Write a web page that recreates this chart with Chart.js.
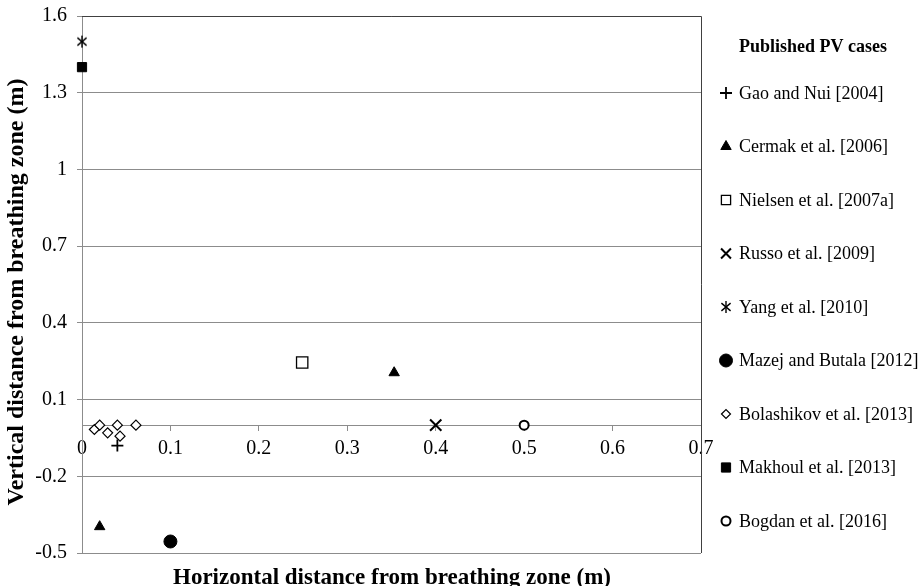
<!DOCTYPE html>
<html>
<head>
<meta charset="utf-8">
<script src="https://cdn.jsdelivr.net/npm/chart.js@4.4.1/dist/chart.umd.min.js"></script>
<style>
  html, body { margin: 0; padding: 0; background: #fff; }
</style>
</head>
<body>
<canvas id="chart" width="922" height="586"></canvas>
<script>
// Axis ticks
const xTicks = [0, 0.1, 0.2, 0.3, 0.4, 0.5, 0.6, 0.7]
const yTicks = [-0.5, -0.2, 0.1, 0.4, 0.7, 1, 1.3, 1.6]

// Published PV cases (horizontal, vertical distance in m)
const gaoNui = [{ x: 0.04, y: -0.08 }]
const cermak = [{ x: 0.353, y: 0.205 }, { x: 0.02, y: -0.397 }]
const nielsen = [{ x: 0.249, y: 0.245 }]
const russo = [{ x: 0.4, y: 0 }]
const yang = [{ x: 0, y: 1.5 }]
const mazej = [{ x: 0.1, y: -0.455 }]
const bolashikov = [
  { x: 0.014, y: -0.017 },
  { x: 0.02, y: 0 },
  { x: 0.029, y: -0.03 },
  { x: 0.04, y: 0 },
  { x: 0.043, y: -0.043 },
  { x: 0.061, y: 0 },
]
const makhoul = [{ x: 0, y: 1.4 }]
const bogdan = [{ x: 0.5, y: 0 }]

const FONT = "'Liberation Serif', 'Times New Roman', serif"
const GRID = "#8c8c8c"

// six-armed asterisk marker (Yang et al.)
function makeAsterisk(size) {
  const c = document.createElement("canvas")
  c.width = size
  c.height = size
  const g = c.getContext("2d")
  const r = size / 2 - 1
  g.strokeStyle = "#000"
  g.lineWidth = 1.4
  g.translate(size / 2, size / 2)
  ;[90, 40, -40].forEach((deg) => {
    const a = (deg * Math.PI) / 180
    g.beginPath()
    g.moveTo(-Math.cos(a) * r, -Math.sin(a) * r)
    g.lineTo(Math.cos(a) * r, Math.sin(a) * r)
    g.stroke()
  })
  return c
}
const asterisk = makeAsterisk(14)

function series(label, data, style) {
  return Object.assign(
    {
      label: label,
      data: data,
      showLine: false,
      clip: false,
      borderColor: "#000",
      backgroundColor: "#000",
    },
    style,
  )
}

const datasets = [
  series("Gao and Nui [2004]", gaoNui, { pointStyle: "cross", pointRadius: 6, pointBorderWidth: 1.8 }),
  series("Cermak et al. [2006]", cermak, { pointStyle: "triangle", pointRadius: 6, pointBorderWidth: 1 }),
  series("Nielsen et al. [2007a]", nielsen, { pointStyle: "rect", pointRadius: 8, pointBorderWidth: 1.3, backgroundColor: "#fff" }),
  series("Russo et al. [2009]", russo, { pointStyle: "crossRot", pointRadius: 8, pointBorderWidth: 2 }),
  series("Yang et al. [2010]", yang, { pointStyle: asterisk, pointRadius: 7 }),
  series("Mazej and Butala [2012]", mazej, { pointStyle: "circle", pointRadius: 6.5, pointBorderWidth: 1 }),
  series("Bolashikov et al. [2013]", bolashikov, { pointStyle: "rectRot", pointRadius: 5, pointBorderWidth: 1.2, backgroundColor: "#fff" }),
  series("Makhoul et al. [2013]", makhoul, { pointStyle: "rect", pointRadius: 6.5, pointBorderWidth: 1 }),
  series("Bogdan et al. [2016]", bogdan, { pointStyle: "circle", pointRadius: 4.5, pointBorderWidth: 2, backgroundColor: "#fff" }),
]

// frame on top and right, axis titles and the legend drawn beside the plot
const extras = {
  id: "extras",
  afterDraw(chart) {
    const ctx = chart.ctx
    const area = chart.chartArea
    ctx.save()
    ctx.strokeStyle = "#404040"
    ctx.lineWidth = 1
    ctx.beginPath()
    ctx.moveTo(area.left, area.top + 0.5)
    ctx.lineTo(area.right + 0.5, area.top + 0.5)
    ctx.lineTo(area.right + 0.5, area.bottom)
    ctx.stroke()

    ctx.fillStyle = "#000"
    ctx.textAlign = "center"
    ctx.textBaseline = "middle"
    ctx.font = "bold 23px " + FONT
    ctx.fillText("Horizontal distance from breathing zone (m)", 392, 578)

    ctx.save()
    ctx.translate(17, 292)
    ctx.rotate(-Math.PI / 2)
    ctx.font = "bold 24px " + FONT
    ctx.fillText("Vertical distance from breathing zone (m)", 0, 0)
    ctx.restore()

    // legend
    ctx.font = "bold 18px " + FONT
    ctx.fillText("Published PV cases", 813, 47)
    ctx.font = "18px " + FONT
    ctx.textAlign = "left"
    chart.data.datasets.forEach((ds, i) => {
      const y = 93 + i * 53.5
      const x = 726
      let r = ds.pointRadius
      if (ds.pointStyle === "rect") r = Math.min(r, 6.5)
      if (ds.pointStyle === "crossRot") r = 7
      if (ds.pointStyle === "rectRot") r = 4.5
      ctx.fillStyle = ds.backgroundColor
      ctx.strokeStyle = ds.borderColor
      ctx.lineWidth = ds.pointBorderWidth || 1
      Chart.helpers.drawPoint(ctx, { pointStyle: ds.pointStyle, radius: r, rotation: 0, borderWidth: ds.pointBorderWidth || 1 }, x, y)
      ctx.fillStyle = "#000"
      ctx.fillText(ds.label, 739, y + 1)
    })
    ctx.restore()
  },
}

new Chart(document.getElementById("chart"), {
  type: "scatter",
  data: { datasets: datasets },
  options: {
    responsive: false,
    animation: false,
    layout: { padding: { top: 16, right: 221, bottom: 33, left: 0 } },
    plugins: {
      legend: { display: false },
      tooltip: { enabled: false },
    },
    scales: {
      x: {
        type: "linear",
        position: { y: 0 },
        min: 0,
        max: 0.7,
        afterBuildTicks: (axis) => {
          axis.ticks = xTicks.map((v) => ({ value: v }))
        },
        ticks: {
          color: "#000",
          font: { family: FONT, size: 20 },
          padding: 7,
          callback: (v) => String(v),
        },
        grid: { drawOnChartArea: false, drawTicks: true, tickLength: 5, color: GRID },
        border: { color: GRID },
      },
      y: {
        type: "linear",
        min: -0.5,
        max: 1.6,
        afterBuildTicks: (axis) => {
          axis.ticks = yTicks.map((v) => ({ value: v }))
        },
        afterFit: (axis) => {
          axis.width = 82
          axis.paddingTop = 0
          axis.paddingBottom = 0
        },
        ticks: {
          color: "#000",
          font: { family: FONT, size: 20 },
          padding: 10,
          callback: (v) => String(v),
        },
        grid: { color: GRID, tickLength: 5 },
        border: { color: GRID },
      },
    },
  },
  plugins: [extras],
})
</script>
</body>
</html>
